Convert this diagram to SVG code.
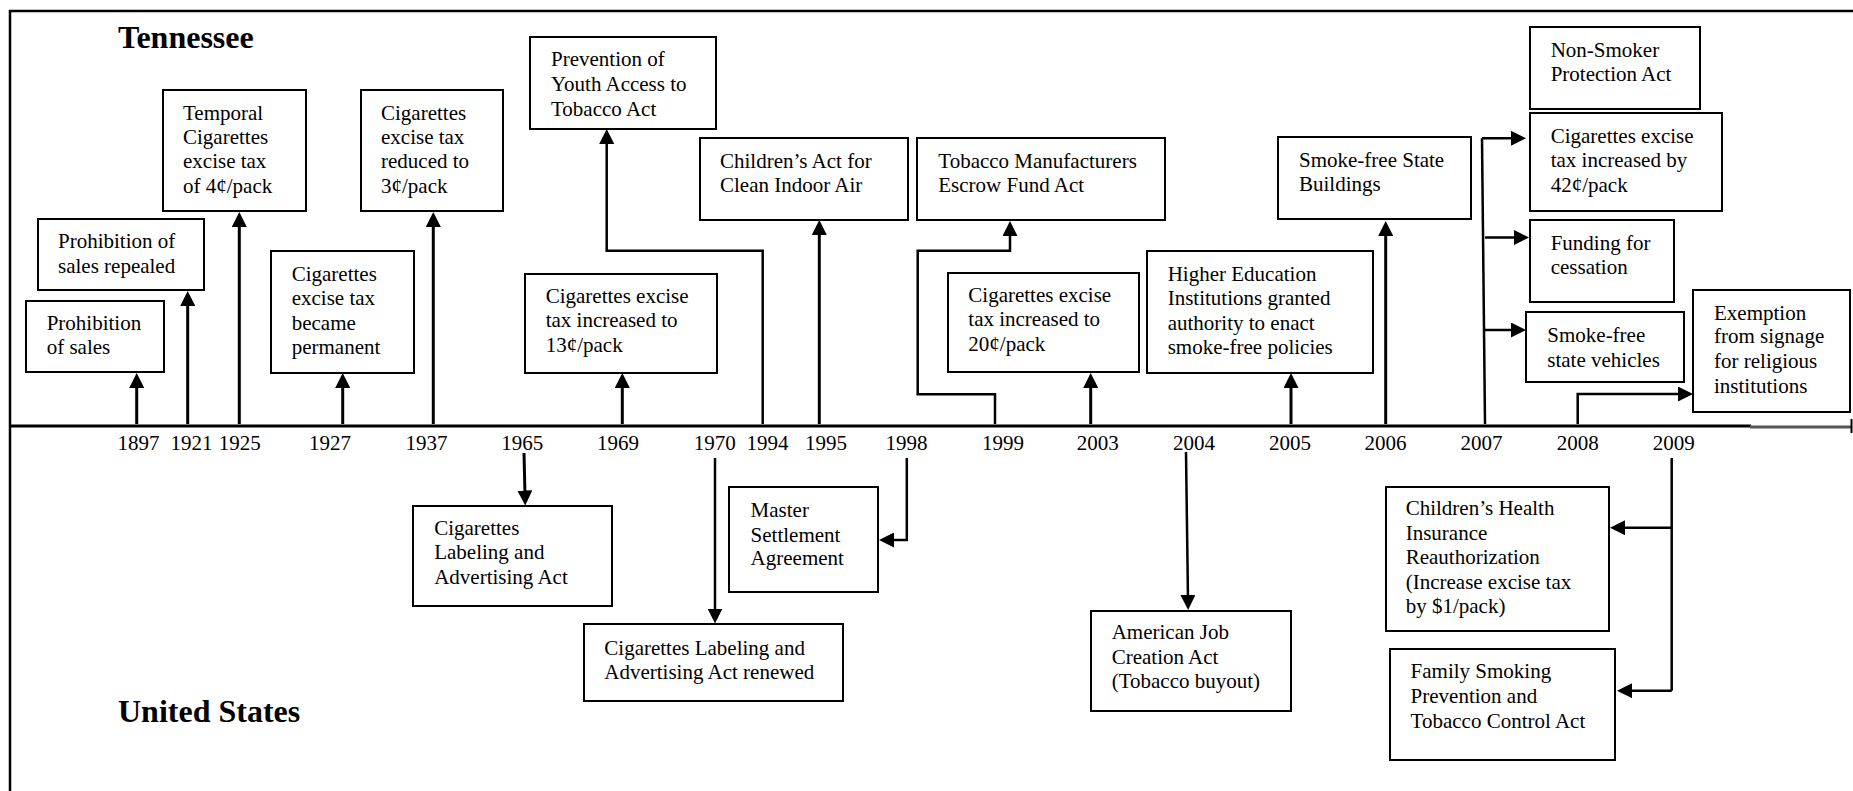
<svg xmlns="http://www.w3.org/2000/svg" width="1853" height="791" viewBox="0 0 1853 791">
<style>
text{font-family:"Liberation Serif","Times New Roman",serif;font-size:21px;fill:#000}
.title{font-size:32px;font-weight:bold}
.yr{text-anchor:middle}
.box{fill:#fff;stroke:#000;stroke-width:2}
.arr{fill:none;stroke:#000;stroke-width:3;marker-end:url(#ah)}
.con{fill:none;stroke:#000;stroke-width:2.5;marker-end:url(#ah)}
.ln{fill:none;stroke:#000;stroke-width:2.5}
</style>
<defs>
<marker id="ah" viewBox="0 0 15 15" markerWidth="15" markerHeight="15" refX="5" refY="7.5" orient="auto" markerUnits="userSpaceOnUse">
<path d="M0,0 L15,7.5 L0,15 z" fill="#000"/>
</marker>
</defs>
<rect width="1853" height="791" fill="#fff"/>
<g id="frame">
<path class="ln" d="M10,791 V11 H1853"/>
</g>
<g id="timeline">
<line x1="10" y1="426" x2="1751" y2="426" stroke="#000" stroke-width="3"/>
<line x1="1750" y1="427" x2="1851" y2="427" stroke="#555" stroke-width="3"/>
<line x1="1851.5" y1="419" x2="1851.5" y2="433" stroke="#000" stroke-width="2"/>
<text class="yr" x="138.4" y="450">1897</text>
<text class="yr" x="191.4" y="450">1921</text>
<text class="yr" x="239.8" y="450">1925</text>
<text class="yr" x="330" y="450">1927</text>
<text class="yr" x="426.6" y="450">1937</text>
<text class="yr" x="522.3" y="450">1965</text>
<text class="yr" x="618" y="450">1969</text>
<text class="yr" x="714.8" y="450">1970</text>
<text class="yr" x="767.5" y="450">1994</text>
<text class="yr" x="826" y="450">1995</text>
<text class="yr" x="906.6" y="450">1998</text>
<text class="yr" x="1002.9" y="450">1999</text>
<text class="yr" x="1097.8" y="450">2003</text>
<text class="yr" x="1194" y="450">2004</text>
<text class="yr" x="1290" y="450">2005</text>
<text class="yr" x="1385.6" y="450">2006</text>
<text class="yr" x="1481.5" y="450">2007</text>
<text class="yr" x="1577.8" y="450">2008</text>
<text class="yr" x="1673.7" y="450">2009</text>
</g>
<g id="labels">
<text class="title" x="118" y="48">Tennessee</text>
<text class="title" x="118" y="722">United States</text>
</g>
<g id="connectors">
<path class="arr" d="M136.7,424 V383"/>
<path class="arr" d="M187.7,424 V301"/>
<path class="arr" d="M239.3,424 V222"/>
<path class="arr" d="M342.7,424 V383"/>
<path class="arr" d="M433.3,424 V222"/>
<path class="arr" d="M622.3,424 V383"/>
<path class="con" d="M762.7,424 V250.7 H606.7 V139"/>
<path class="arr" d="M819.3,424 V230"/>
<path class="con" d="M995,424 V394.3 H917.7 V250.7 H1010 V231"/>
<path class="arr" d="M1090.7,424 V383"/>
<path class="arr" d="M1291,424 V383"/>
<path class="arr" d="M1385.7,424 V231"/>
<path class="ln" d="M1485,424 L1482,138.3"/>
<path class="con" d="M1482,138.3 H1516"/>
<path class="con" d="M1485,237.5 H1519"/>
<path class="con" d="M1485,330 H1516"/>
<path class="con" d="M1577.7,424 V394 H1683"/>
<path class="arr" d="M524,453 L525,495.5"/>
<path class="con" d="M715,458 V613.5"/>
<path class="con" d="M906.8,458 V540 H889"/>
<path class="con" d="M1186,452 L1188,600"/>
<path class="ln" d="M1671.7,458 V690.7"/>
<path class="con" d="M1671.7,527.7 H1620"/>
<path class="con" d="M1671.7,690.7 H1627"/>
</g>
<g id="n-prohibition">
<rect class="box" x="26" y="301" width="138" height="71"/>
<text x="46.7" y="330">Prohibition</text>
<text x="46.7" y="354">of sales</text>
</g>
<g id="n-repealed">
<rect class="box" x="38" y="219" width="166" height="71"/>
<text x="58" y="248">Prohibition of</text>
<text x="58" y="273">sales repealed</text>
</g>
<g id="n-temporal">
<rect class="box" x="163" y="90" width="143" height="121"/>
<text x="183" y="120">Temporal</text>
<text x="183" y="144">Cigarettes</text>
<text x="183" y="168">excise tax</text>
<text x="183" y="193">of 4¢/pack</text>
</g>
<g id="n-permanent">
<rect class="box" x="271" y="251" width="143" height="122"/>
<text x="291.7" y="281">Cigarettes</text>
<text x="291.7" y="305">excise tax</text>
<text x="291.7" y="330">became</text>
<text x="291.7" y="354">permanent</text>
</g>
<g id="n-reduced">
<rect class="box" x="361" y="90" width="142" height="121"/>
<text x="381" y="120">Cigarettes</text>
<text x="381" y="144">excise tax</text>
<text x="381" y="168">reduced to</text>
<text x="381" y="193">3¢/pack</text>
</g>
<g id="n-13c">
<rect class="box" x="525" y="274" width="192" height="99"/>
<text x="545.7" y="302.7">Cigarettes excise</text>
<text x="545.7" y="327.3">tax increased to</text>
<text x="545.7" y="351.7">13¢/pack</text>
</g>
<g id="n-youth">
<rect class="box" x="530" y="37" width="186" height="92"/>
<text x="551" y="66">Prevention of</text>
<text x="551" y="90.7">Youth Access to</text>
<text x="551" y="115.7">Tobacco Act</text>
</g>
<g id="n-children-air">
<rect class="box" x="700" y="138" width="208" height="82"/>
<text x="720" y="167.7">Children’s Act for</text>
<text x="720" y="192.3">Clean Indoor Air</text>
</g>
<g id="n-escrow">
<rect class="box" x="917" y="138" width="248" height="82"/>
<text x="938.3" y="167.7">Tobacco Manufacturers</text>
<text x="938.3" y="192.3">Escrow Fund Act</text>
</g>
<g id="n-20c">
<rect class="box" x="948" y="273" width="191" height="99"/>
<text x="968.3" y="301.7">Cigarettes excise</text>
<text x="968.3" y="326">tax increased to</text>
<text x="968.3" y="350.7">20¢/pack</text>
</g>
<g id="n-higher-ed">
<rect class="box" x="1147" y="251" width="226" height="122"/>
<text x="1167.7" y="281">Higher Education</text>
<text x="1167.7" y="305">Institutions granted</text>
<text x="1167.7" y="330">authority to enact</text>
<text x="1167.7" y="354.3">smoke-free policies</text>
</g>
<g id="n-state-buildings">
<rect class="box" x="1278" y="137" width="193" height="82"/>
<text x="1299" y="166.7">Smoke-free State</text>
<text x="1299" y="191">Buildings</text>
</g>
<g id="n-nonsmoker">
<rect class="box" x="1530" y="27" width="170" height="82"/>
<text x="1550.7" y="56.7">Non-Smoker</text>
<text x="1550.7" y="81">Protection Act</text>
</g>
<g id="n-42c">
<rect class="box" x="1530" y="113" width="192" height="98"/>
<text x="1550.7" y="143">Cigarettes excise</text>
<text x="1550.7" y="167">tax increased by</text>
<text x="1550.7" y="191.5">42¢/pack</text>
</g>
<g id="n-funding">
<rect class="box" x="1530" y="220" width="144" height="82"/>
<text x="1550.7" y="250">Funding for</text>
<text x="1550.7" y="274">cessation</text>
</g>
<g id="n-vehicles">
<rect class="box" x="1526" y="312" width="158" height="70"/>
<text x="1547.3" y="341.7">Smoke-free</text>
<text x="1547.3" y="366.7">state vehicles</text>
</g>
<g id="n-exemption">
<rect class="box" x="1693" y="290" width="157" height="122"/>
<text x="1714" y="320">Exemption</text>
<text x="1714" y="343.3">from signage</text>
<text x="1714" y="368.3">for religious</text>
<text x="1714" y="392.7">institutions</text>
</g>
<g id="n-labeling-1965">
<rect class="box" x="413" y="506" width="199" height="100"/>
<text x="434.2" y="535">Cigarettes</text>
<text x="434.2" y="559.3">Labeling and</text>
<text x="434.2" y="584.3">Advertising Act</text>
</g>
<g id="n-labeling-1970">
<rect class="box" x="584" y="624" width="259" height="77"/>
<text x="604.3" y="655">Cigarettes Labeling and</text>
<text x="604.3" y="679.3">Advertising Act renewed</text>
</g>
<g id="n-msa">
<rect class="box" x="729" y="487" width="149" height="105"/>
<text x="750.6" y="516.7">Master</text>
<text x="750.6" y="541.7">Settlement</text>
<text x="750.6" y="565">Agreement</text>
</g>
<g id="n-ajca">
<rect class="box" x="1091" y="611" width="200" height="100"/>
<text x="1111.7" y="639.3">American Job</text>
<text x="1111.7" y="664">Creation Act</text>
<text x="1111.7" y="688.3">(Tobacco buyout)</text>
</g>
<g id="n-chip">
<rect class="box" x="1386" y="487" width="223" height="144"/>
<text x="1405.7" y="515">Children’s Health</text>
<text x="1405.7" y="540">Insurance</text>
<text x="1405.7" y="564.3">Reauthorization</text>
<text x="1405.7" y="589.3">(Increase excise tax</text>
<text x="1405.7" y="613.3">by $1/pack)</text>
</g>
<g id="n-fsptca">
<rect class="box" x="1390" y="649" width="225" height="111"/>
<text x="1410.6" y="678.3">Family Smoking</text>
<text x="1410.6" y="702.7">Prevention and</text>
<text x="1410.6" y="727.7">Tobacco Control Act</text>
</g>
</svg>
